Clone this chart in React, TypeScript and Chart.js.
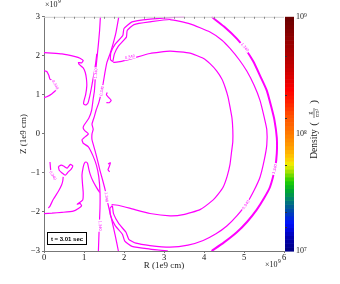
import React, { useEffect, useRef } from 'react';
import { Chart, registerables } from 'chart.js';
Chart.register(...registerables);

type Pt = [number, number];

const rTicks = [0, 1, 2, 3, 4, 5, 6];
const zTicks = [-3, -2, -1, 0, 1, 2, 3];
const densityTicks = [1e7, 1e8, 1e9];
const densityTickLabels = ['10⁷', '10⁸', '10⁹'];
const densityMinorTicks = [1.6e7, 2.15e7, 5.4e7, 1.36e8, 2.15e8, 4.6e8];
const timeLabel = 't = 3.01 sec';

const colorStops: [number, string][] = [
  [0.0, '#000080'], [0.06, '#0000b0'], [0.12, '#0010ff'], [0.18, '#0050a0'],
  [0.22, '#008070'], [0.26, '#00a830'], [0.3, '#20d000'], [0.34, '#a0e000'],
  [0.37, '#f0f000'], [0.4, '#ffc800'], [0.45, '#ff9c00'], [0.52, '#ff7000'],
  [0.58, '#ff5000'], [0.64, '#ff2000'], [0.69, '#ff0000'], [0.75, '#d80000'],
  [0.83, '#b00000'], [0.91, '#8f0000'], [1.0, '#680000'],
];

// contour lines (R, Z) in units of 1e9 cm
const contourOuter: Pt[] = [
  [4.19, 3.0], [4.5, 2.75], [4.82, 2.44], [5.05, 2.15], [5.23, 1.86], [5.42, 1.45],
  [5.57, 1.11], [5.68, 0.7], [5.76, 0.36], [5.82, -0.1], [5.82, -0.5], [5.78, -0.85],
  [5.65, -1.36], [5.5, -1.65], [5.32, -1.94], [5.08, -2.25], [4.82, -2.52], [4.5, -2.78], [4.19, -3.0],
];
const contourMiddle: Pt[] = [
  [1.72, 1.85], [1.76, 2.05], [1.86, 2.25], [2.06, 2.48], [2.08, 2.65], [2.25, 2.8], [2.65, 2.87],
  [3.15, 2.93], [3.65, 2.82], [4.15, 2.61], [4.45, 2.4], [4.65, 2.19], [4.88, 1.9], [5.07, 1.61],
  [5.25, 1.25], [5.4, 0.86], [5.5, 0.45], [5.57, 0.11], [5.57, -0.28], [5.5, -0.7], [5.4, -1.11],
  [5.25, -1.45], [5.07, -1.78], [4.82, -2.1], [4.57, -2.36], [4.3, -2.56], [3.98, -2.73], [3.6, -2.85],
  [3.15, -2.9], [2.65, -2.86], [2.3, -2.8], [2.12, -2.7], [2.05, -2.52], [1.87, -2.3], [1.74, -2.05], [1.71, -1.84],
];
const contourInner: Pt[] = [
  [1.73, 1.83], [1.9, 1.85], [2.2, 1.93], [2.65, 2.06], [3.15, 2.12], [3.65, 2.07], [3.98, 1.94],
  [4.15, 1.8], [4.32, 1.61], [4.45, 1.4], [4.53, 1.19], [4.6, 0.95], [4.65, 0.69], [4.7, 0.4],
  [4.72, 0.11], [4.72, -0.2], [4.69, -0.45], [4.65, -0.78], [4.58, -1.08], [4.48, -1.36], [4.35, -1.55],
  [4.23, -1.69], [3.9, -1.94], [3.48, -2.07], [3.15, -2.1], [2.65, -2.04], [2.2, -1.92], [1.9, -1.84], [1.69, -1.81],
];
const contourPairTop: Pt[] = [
  [3.5, 3.0], [3.15, 2.98], [2.65, 2.94], [2.2, 2.87], [2.0, 2.7], [1.97, 2.52], [1.78, 2.3],
  [1.67, 2.08], [1.66, 1.9], [1.72, 1.85],
];
const contourPairBottom: Pt[] = [
  [3.1, -3.0], [2.65, -2.95], [2.2, -2.88], [2.02, -2.75], [1.96, -2.57], [1.78, -2.35],
  [1.66, -2.08], [1.65, -1.9], [1.71, -1.84],
];
const contourA: Pt[] = [
  [0.0, 2.08], [0.2, 2.07], [0.45, 2.05], [0.78, 1.98], [0.9, 1.94], [0.98, 1.88], [0.94, 1.82],
  [0.86, 1.83], [0.88, 1.78], [0.98, 1.69], [1.03, 1.58], [1.06, 1.42], [1.07, 1.23], [1.04, 1.0],
  [1.0, 0.85], [0.99, 0.77], [1.04, 0.74], [1.1, 0.79], [1.14, 0.95], [1.18, 1.15], [1.22, 1.38],
  [1.26, 1.6], [1.29, 1.8], [1.32, 2.05],
];
const contourB: Pt[] = [
  [1.41, 3.0], [1.39, 2.65], [1.36, 2.3], [1.33, 2.0], [1.3, 1.7], [1.28, 1.4], [1.26, 1.1],
  [1.23, 0.9], [1.19, 0.6], [1.12, 0.4], [1.0, 0.22], [0.98, 0.15], [1.03, 0.07], [1.11, 0.0],
  [1.0, -0.1], [0.95, -0.15], [0.98, -0.24], [1.11, -0.33], [1.22, -0.55], [1.31, -0.8],
  [1.37, -1.1], [1.4, -1.5], [1.4, -1.9], [1.38, -2.4], [1.36, -3.0],
];
const contourC: Pt[] = [
  [1.87, 3.0], [1.8, 2.6], [1.73, 2.32], [1.65, 2.05], [1.57, 1.82], [1.52, 1.55], [1.48, 1.3],
  [1.43, 1.05], [1.37, 0.8], [1.3, 0.6], [1.26, 0.45], [1.2, 0.25], [1.23, 0.12], [1.2, 0.0],
  [1.2, -0.15], [1.24, -0.3], [1.32, -0.6], [1.4, -0.94], [1.47, -1.2], [1.53, -1.44],
  [1.6, -1.8], [1.69, -2.19], [1.78, -2.6], [1.86, -3.0],
];
const contourA2: Pt[] = [
  [0.0, -2.04], [0.2, -2.03], [0.45, -2.01], [0.73, -1.98], [0.86, -1.91], [0.94, -1.84],
  [0.9, -1.78], [0.83, -1.8], [0.9, -1.75], [0.97, -1.69], [0.98, -1.5], [0.96, -1.25],
  [0.95, -1.05], [0.98, -0.85], [1.01, -0.75], [1.05, -0.72], [1.09, -0.76], [1.12, -0.9],
  [1.16, -1.05], [1.22, -1.2], [1.3, -1.35], [1.39, -1.5],
];
const contourUL1: Pt[] = [[0.0, 1.62], [0.07, 1.6], [0.12, 1.5], [0.15, 1.4], [0.22, 1.36]];
const contourUL2: Pt[] = [[0.33, 1.15], [0.2, 1.03], [0.07, 0.95], [0.0, 0.93]];
const contourLL1: Pt[] = [[0.15, -0.72], [0.16, -0.85], [0.17, -0.95]];
const contourLL2: Pt[] = [
  [0.11, -1.9], [0.15, -1.85], [0.23, -1.68], [0.36, -1.47], [0.44, -1.31], [0.47, -1.2], [0.48, -1.1],
];
const contourBlob: Pt[] = [
  [0.36, -0.84], [0.43, -0.8], [0.5, -0.83], [0.58, -0.88], [0.66, -0.78], [0.72, -0.82], [0.68, -0.9],
  [0.6, -0.98], [0.53, -1.06], [0.45, -1.0], [0.38, -0.93], [0.36, -0.84],
];
const contourHookUp: Pt[] = [[1.58, 1.06], [1.56, 1.0], [1.62, 0.93], [1.68, 0.86], [1.63, 0.8], [1.56, 0.8]];
const contourHookDown: Pt[] = [[1.6, -0.77], [1.66, -0.74], [1.63, -0.84], [1.6, -0.92], [1.64, -0.97]];

const thinContours: Pt[][] = [
  contourMiddle, contourInner, contourPairTop, contourPairBottom, contourA, contourB, contourC,
  contourA2, contourUL1, contourUL2, contourLL1, contourLL2, contourBlob, contourHookUp, contourHookDown,
];

const labelText = ['0.340', '1.340', '0.340', '0.340', '1.340', '1.340', '0.340', '1.340', '1.340', '0.340'];
const labelR = [0.28, 1.3, 1.45, 2.15, 5.02, 5.77, 5.05, 1.4, 1.56, 0.22];
const labelZ = [1.26, 1.55, 1.1, 1.97, 2.22, -0.9, -1.82, -2.35, -1.62, -1.07];
const labelRot = [62, -87, -80, -12, 50, -75, -55, 88, 85, 58];

const MAGENTA = '#ff00ff';
const SERIF = "'Liberation Serif', 'DejaVu Serif', serif";

function hexToRgb(h: string) {
  return [parseInt(h.slice(1, 3), 16), parseInt(h.slice(3, 5), 16), parseInt(h.slice(5, 7), 16)];
}
function colormap(t: number) {
  for (let i = 0; i < colorStops.length - 1; i++) {
    const [t0, c0] = colorStops[i];
    const [t1, c1] = colorStops[i + 1];
    if (t >= t0 && t <= t1) {
      const f = (t - t0) / (t1 - t0);
      const a = hexToRgb(c0), b = hexToRgb(c1);
      return `rgb(${a.map((v, k) => Math.round(v + (b[k] - v) * f)).join(',')})`;
    }
  }
  return colorStops[colorStops.length - 1][1];
}

function drawTimes10(ctx: CanvasRenderingContext2D, x: number, y: number) {
  ctx.font = `8px ${SERIF}`;
  ctx.textAlign = 'left';
  ctx.textBaseline = 'middle';
  ctx.fillStyle = '#222';
  ctx.fillText('×10', x, y);
  const w = ctx.measureText('×10').width;
  ctx.font = `5.5px ${SERIF}`;
  ctx.fillText('9', x + w + 0.5, y - 3);
}

const decorPlugin = {
  id: 'decor',
  afterDatasetsDraw(chart: any) {
    const { ctx, chartArea: ca, scales } = chart;
    const xs = scales.x, ys = scales.y;
    ctx.save();
    // contour labels
    for (let i = 0; i < labelText.length; i++) {
      const px = xs.getPixelForValue(labelR[i]);
      const py = ys.getPixelForValue(labelZ[i]);
      ctx.save();
      ctx.translate(px, py);
      ctx.rotate((labelRot[i] * Math.PI) / 180);
      ctx.font = `4px 'Liberation Sans', sans-serif`;
      ctx.textAlign = 'center';
      ctx.textBaseline = 'middle';
      const w = ctx.measureText(labelText[i]).width;
      ctx.fillStyle = '#fff';
      ctx.fillRect(-w / 2 - 1, -2.2, w + 2, 4.4);
      ctx.fillStyle = MAGENTA;
      ctx.fillText(labelText[i], 0, 0);
      ctx.restore();
    }
    // time box
    const bx = ca.left + 3.5, by = ca.bottom - 18.5;
    ctx.fillStyle = '#fff';
    ctx.fillRect(bx, by, 39, 12);
    ctx.strokeStyle = '#000';
    ctx.lineWidth = 1;
    ctx.strokeRect(bx, by, 39, 12);
    ctx.fillStyle = '#000';
    ctx.font = `bold 6px 'Liberation Sans', sans-serif`;
    ctx.textAlign = 'center';
    ctx.textBaseline = 'middle';
    ctx.fillText(timeLabel, bx + 19.5, by + 6.5);
    ctx.restore();
  },
  afterDraw(chart: any) {
    const { ctx, chartArea: ca, scales } = chart;
    const yc = scales.yc, xs = scales.x;
    ctx.save();
    // top border with minor ticks
    ctx.strokeStyle = '#cfcfcf';
    ctx.lineWidth = 1;
    ctx.beginPath();
    ctx.moveTo(ca.left, ca.top + 0.5);
    ctx.lineTo(ca.right, ca.top + 0.5);
    ctx.stroke();
    ctx.strokeStyle = '#888';
    ctx.beginPath();
    for (let v = 0.25; v < 6; v += 0.25) {
      const px = Math.round(xs.getPixelForValue(v)) + 0.5;
      ctx.moveTo(px, ca.top);
      ctx.lineTo(px, ca.top + 2);
    }
    ctx.stroke();
    // colorbar
    const x0 = ca.right + 1, w = 9;
    const N = 60;
    const lo = Math.log10(densityTicks[0]);
    const hi = Math.log10(densityTicks[densityTicks.length - 1]);
    for (let i = 0; i < N; i++) {
      const v0 = Math.pow(10, lo + ((hi - lo) * i) / N);
      const v1 = Math.pow(10, lo + ((hi - lo) * (i + 1)) / N);
      const y0 = yc.getPixelForValue(v0);
      const y1 = yc.getPixelForValue(v1);
      ctx.fillStyle = colormap((i + 0.5) / N);
      ctx.fillRect(x0, y1, w, y0 - y1 + 0.6);
    }
    ctx.strokeStyle = '#333';
    ctx.beginPath();
    for (const v of densityMinorTicks) {
      const py = Math.round(yc.getPixelForValue(v)) + 0.5;
      ctx.moveTo(x0, py);
      ctx.lineTo(x0 + 2, py);
    }
    ctx.stroke();
    // x10^9 multipliers
    drawTimes10(ctx, ca.left + 1, 5);
    drawTimes10(ctx, ca.right - 19, 265);
    // colorbar title
    ctx.translate(314, 0);
    ctx.rotate(-Math.PI / 2);
    ctx.fillStyle = '#222';
    ctx.textBaseline = 'middle';
    ctx.textAlign = 'center';
    ctx.font = `9.5px ${SERIF}`;
    ctx.fillText('Density', -144, 0);
    ctx.font = `11px ${SERIF}`;
    ctx.fillText('(', -124, 0);
    ctx.fillText(')', -102, 0);
    ctx.font = `5.5px ${SERIF}`;
    ctx.fillText('g', -113, -3);
    ctx.fillText('cm³', -113, 3.5);
    ctx.strokeStyle = '#222';
    ctx.lineWidth = 0.6;
    ctx.beginPath();
    ctx.moveTo(-118, 0);
    ctx.lineTo(-108, 0);
    ctx.stroke();
    ctx.restore();
  },
};

export default function App() {
  const ref = useRef<HTMLCanvasElement>(null);
  useEffect(() => {
    if (!ref.current) return;
    const toXY = (c: Pt[]) => c.map(([r, z]) => ({ x: r, y: z }));
    const datasets: any[] = [
      {
        data: toXY(contourOuter), showLine: true, borderColor: MAGENTA, borderWidth: 2,
        pointRadius: 0, tension: 0.2, fill: false,
      },
      ...thinContours.map((c) => ({
        data: toXY(c), showLine: true, borderColor: MAGENTA, borderWidth: 1.2,
        pointRadius: 0, tension: 0.15, fill: false,
      })),
    ];
    const tickFont = { family: SERIF, size: 8.5 };
    const chart = new Chart(ref.current, {
      type: 'scatter',
      data: { datasets },
      plugins: [decorPlugin],
      options: {
        animation: false,
        responsive: false,
        maintainAspectRatio: false,
        layout: { padding: { top: 11, left: 0, right: 0, bottom: 0 } },
        plugins: { legend: { display: false }, tooltip: { enabled: false } },
        elements: { point: { radius: 0 } },
        scales: {
          x: {
            type: 'linear', min: 0, max: 6, position: 'bottom',
            afterBuildTicks: (s: any) => { s.ticks = rTicks.map((v) => ({ value: v })); },
            afterFit: (s: any) => { s.height = 33; },
            ticks: { font: tickFont, color: '#111', padding: 0, maxRotation: 0 },
            grid: { display: true, drawOnChartArea: false, drawTicks: true, tickLength: 2, color: '#777' },
            border: { display: true, color: '#777' },
            title: { display: true, text: 'R (1e9 cm)', font: { family: SERIF, size: 9 }, color: '#222', padding: { top: 0, bottom: 13 } },
          },
          y: {
            type: 'linear', min: -3, max: 3, position: 'left',
            afterBuildTicks: (s: any) => { s.ticks = zTicks.map((v) => ({ value: v })); },
            afterFit: (s: any) => { s.width = 44; },
            ticks: {
              font: tickFont, color: '#111', padding: 2,
              callback: (v: any) => (Number(v) < 0 ? '−' + Math.abs(Number(v)) : String(v)),
            },
            grid: { display: true, drawOnChartArea: false, drawTicks: true, tickLength: 2, color: '#777' },
            border: { display: true, color: '#777' },
            title: { display: true, text: 'Z (1e9 cm)', font: { family: SERIF, size: 9 }, color: '#222', padding: { top: 18, bottom: 0 } },
          },
          yc: {
            type: 'logarithmic', position: 'right', min: densityTicks[0], max: densityTicks[2],
            afterBuildTicks: (s: any) => { s.ticks = densityTicks.map((v) => ({ value: v })); },
            afterFit: (s: any) => { s.width = 56; },
            ticks: {
              font: { family: SERIF, size: 8 }, color: '#222', padding: 12,
              callback: (v: any) => {
                const i = densityTicks.indexOf(Number(v));
                return i >= 0 ? densityTickLabels[i] : '';
              },
            },
            grid: { display: false, drawTicks: false, drawOnChartArea: false },
            border: { display: false },
          },
        },
      } as any,
    });
    return () => chart.destroy();
  }, []);
  return (
    <div style={{ position: 'fixed', left: 0, top: 0, width: 340, height: 284, background: '#fff' }}>
      <canvas ref={ref} width={340} height={284} style={{ display: 'block' }} />
    </div>
  );
}
